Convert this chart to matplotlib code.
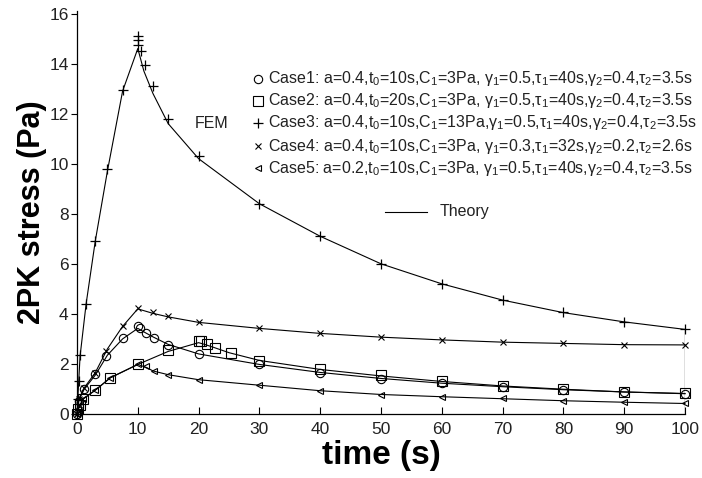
import matplotlib
matplotlib.use("Agg")
import matplotlib.pyplot as plt
from matplotlib.lines import Line2D

plt.rcParams['font.family'] = ['Liberation Sans', 'DejaVu Sans']
plt.rcParams['mathtext.fontset'] = 'custom'
plt.rcParams['mathtext.rm'] = 'Liberation Sans'
plt.rcParams['mathtext.default'] = 'regular'

# ---------------- data ----------------
# FEM points
c1_t = [0, 0.3, 1.2, 3, 4.7, 7.5, 10, 10.3, 11.4, 12.7, 15, 20, 30, 40, 50, 60, 70, 80, 90, 100]
c1_v = [0, 0.5, 1.0, 1.58, 2.3, 3.05, 3.52, 3.42, 3.22, 3.05, 2.75, 2.38, 1.99, 1.65, 1.41, 1.22, 1.08, 0.96, 0.87, 0.80]

c2_t = [0, 0.2, 0.5, 1, 3, 5.5, 10, 15, 20, 20.4, 21.3, 22.7, 25.3, 30, 40, 50, 60, 70, 80, 90, 100]
c2_v = [0, 0.2, 0.35, 0.6, 0.95, 1.45, 2.0, 2.55, 2.92, 2.9, 2.8, 2.65, 2.43, 2.13, 1.78, 1.56, 1.30, 1.12, 0.99, 0.87, 0.83]

c3_t = [0, 0.1, 0.25, 0.5, 1.5, 3, 5, 7.5, 10, 10, 10, 10.5, 11.25, 12.5, 15, 20, 30, 40, 50, 60, 70, 80, 90, 100]
c3_v = [0, 0.6, 1.3, 2.35, 4.4, 6.9, 9.8, 12.95, 15.1, 14.95, 14.75, 14.5, 13.95, 13.1, 11.8, 10.3, 8.4, 7.1, 6.0, 5.2, 4.55, 4.06, 3.68, 3.39]

c4_t = [0, 0.3, 1.2, 3, 4.7, 7.5, 10, 12.5, 15, 20, 30, 40, 50, 60, 70, 80, 90, 100]
c4_v = [0, 0.6, 1.05, 1.65, 2.5, 3.5, 4.25, 4.06, 3.9, 3.67, 3.43, 3.22, 3.07, 2.97, 2.87, 2.83, 2.77, 2.77]

c5_t = [0, 0.2, 0.5, 1, 3, 5.5, 10, 11.4, 12.7, 15, 20, 30, 40, 50, 60, 70, 80, 90, 100]
c5_v = [0, 0.2, 0.35, 0.6, 0.95, 1.45, 2.0, 1.9, 1.72, 1.57, 1.37, 1.17, 0.93, 0.77, 0.69, 0.62, 0.53, 0.47, 0.43]

# theory curves
th1_t = [0, 0.3, 1.2, 3, 5, 7.5, 10, 11, 12.5, 15, 20, 30, 40, 50, 60, 70, 80, 90, 100]
th1_v = [0, 0.55, 1.0, 1.55, 2.35, 3.0, 3.42, 3.28, 3.08, 2.78, 2.4, 1.98, 1.66, 1.42, 1.23, 1.09, 0.97, 0.88, 0.81]
th2_t = [0, 0.2, 0.5, 1, 3, 5.5, 10, 15, 20, 21, 22.5, 25, 30, 40, 50, 60, 70, 80, 90, 100]
th2_v = [0, 0.2, 0.35, 0.6, 0.95, 1.45, 1.98, 2.5, 2.85, 2.78, 2.66, 2.45, 2.14, 1.78, 1.52, 1.30, 1.12, 0.99, 0.88, 0.82]
th3_t = [0, 0.5, 1.5, 3, 5, 7.5, 10, 11, 12.5, 15, 20, 30, 40, 50, 60, 70, 80, 90, 100]
th3_v = [0, 2.3, 4.4, 6.9, 9.7, 12.9, 14.6, 13.7, 12.8, 11.6, 10.2, 8.4, 7.1, 6.0, 5.2, 4.55, 4.05, 3.68, 3.38]
th4_t = [0, 0.3, 1.2, 3, 5, 7.5, 10, 12.5, 15, 20, 30, 40, 50, 60, 70, 80, 90, 100]
th4_v = [0, 0.6, 1.05, 1.65, 2.6, 3.5, 4.2, 4.02, 3.88, 3.66, 3.42, 3.22, 3.07, 2.96, 2.87, 2.82, 2.77, 2.76]
th5_t = [0, 0.2, 0.5, 1, 3, 5.5, 10, 11.5, 12.5, 15, 20, 30, 40, 50, 60, 70, 80, 90, 100]
th5_v = [0, 0.2, 0.35, 0.6, 0.95, 1.45, 1.98, 1.85, 1.72, 1.57, 1.37, 1.15, 0.93, 0.78, 0.69, 0.61, 0.53, 0.47, 0.42]

labels = [
    "Case1: a=0.4,t$_0$=10s,C$_1$=3Pa, γ$_1$=0.5,τ$_1$=40s,γ$_2$=0.4,τ$_2$=3.5s",
    "Case2: a=0.4,t$_0$=20s,C$_1$=3Pa, γ$_1$=0.5,τ$_1$=40s,γ$_2$=0.4,τ$_2$=3.5s",
    "Case3: a=0.4,t$_0$=10s,C$_1$=13Pa,γ$_1$=0.5,τ$_1$=40s,γ$_2$=0.4,τ$_2$=3.5s",
    "Case4: a=0.4,t$_0$=10s,C$_1$=3Pa, γ$_1$=0.3,τ$_1$=32s,γ$_2$=0.2,τ$_2$=2.6s",
    "Case5: a=0.2,t$_0$=10s,C$_1$=3Pa, γ$_1$=0.5,τ$_1$=40s,γ$_2$=0.4,τ$_2$=3.5s",
]
xticks = [0, 10, 20, 30, 40, 50, 60, 70, 80, 90, 100]
yticks = [0, 2, 4, 6, 8, 10, 12, 14, 16]

# ---------------- figure ----------------
W, H = 702, 478
fig = plt.figure(figsize=(W / 100, H / 100), dpi=100)
ax = fig.add_axes([77 / W, 1 - 414 / H, (685 - 77) / W, (414 - 11) / H])

fem = [(c1_t, c1_v), (c2_t, c2_v), (c3_t, c3_v), (c4_t, c4_v), (c5_t, c5_v)]
th = [(th1_t, th1_v), (th2_t, th2_v), (th3_t, th3_v), (th4_t, th4_v), (th5_t, th5_v)]
styles = [dict(marker='o', ms=6, mfc='none', mew=0.8),
          dict(marker='s', ms=6.5, mfc='none', mew=0.8),
          dict(marker='+', ms=7.5, mew=0.9),
          dict(marker='x', ms=4.2, mew=0.8),
          dict(marker='<', ms=5, mfc='none', mew=0.8)]

for (tt, vv) in th:
    ax.plot(tt, vv, color='black', lw=0.8, clip_on=False)
for (tt, vv), st in zip(fem, styles):
    ax.plot(tt, vv, ls='none', color='black', mec='black', clip_on=False, **st)

ax.set_xlim(0, 100)
ax.set_ylim(0, 16.1)
ax.set_xticks(xticks)
ax.set_yticks(yticks)
for s in ['top', 'right']:
    ax.spines[s].set_visible(False)
ax.spines['left'].set_linewidth(0.9)
ax.spines['bottom'].set_linewidth(0.9)
ax.axvline(100, ymax=c3_v[-1] / 16.1, color='black', lw=0.9)
ax.tick_params(axis='x', direction='in', length=5, width=0.8, pad=6)
ax.tick_params(axis='y', direction='out', length=4, width=0.8, pad=2)
for lab in ax.get_xticklabels() + ax.get_yticklabels():
    lab.set_fontfamily(['Liberation Sans Narrow', 'Liberation Sans'])
    lab.set_fontsize(12.5)
    lab.set_color('#222222')

ax.set_xlabel('time (s)', fontsize=24, fontweight='bold', labelpad=2)
ax.set_ylabel('2PK stress (Pa)', fontsize=22, fontweight='bold', labelpad=2)

# ---------------- legend (manual) ----------------
rows_y = [79, 101, 123, 146, 168]
for y, st, lab in zip(rows_y, styles, labels):
    fig.lines.append(Line2D([258 / W], [1 - y / H], transform=fig.transFigure,
                            ls='none', color='black', mec='black', **st))
    fig.text(268 / W, 1 - y / H, lab, fontsize=11.5, va='center', ha='left', color='#222222')
fig.text(195 / W, 1 - 124 / H, 'FEM', fontsize=11.5, va='center', ha='left', color='#222222')
fig.lines.append(Line2D([385 / W, 427 / W], [1 - 212 / H, 1 - 212 / H],
                        transform=fig.transFigure, color='black', lw=0.8))
fig.text(440 / W, 1 - 212 / H, 'Theory', fontsize=11.5, va='center', ha='left', color='#222222')

fig.savefig('out.png', dpi=100)
